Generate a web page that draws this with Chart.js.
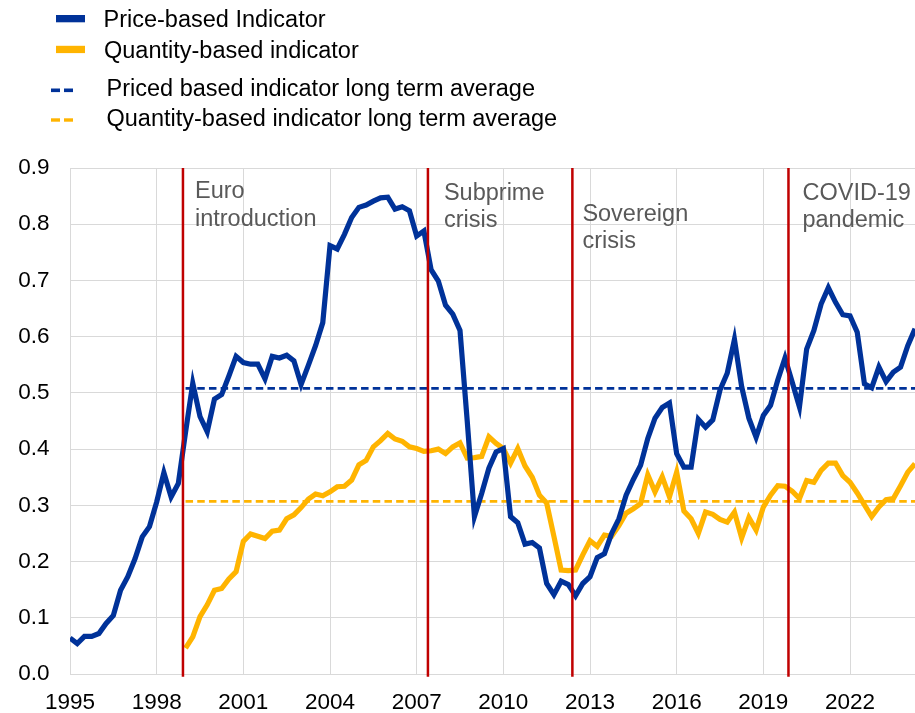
<!DOCTYPE html>
<html>
<head>
<meta charset="utf-8">
<script src="https://cdn.jsdelivr.net/npm/chart.js@4"></script>
<style>
html,body{margin:0;padding:0;background:#fff;}
#wrap{width:915px;height:713px;position:relative;}
</style>
</head>
<body>
<div id="wrap"><canvas id="c"></canvas></div>
<script>
// ---------- DATA ----------
// Quarterly categories 1995Q1 .. 2024Q2
const quarters = [];
for (let y = 1995; y <= 2024; y++) {
  for (let q = 1; q <= 4; q++) {
    if (y === 2024 && q > 2) break;
    quarters.push(y + 'Q' + q);
  }
}

// Price-based indicator, 1995Q1 .. 2024Q2
const priceBased = [
  0.064, 0.054, 0.067, 0.067, 0.072, 0.090, 0.104, 0.149, 0.173, 0.205, 0.244, 0.262,
  0.306, 0.358, 0.315, 0.339, 0.430, 0.517, 0.458, 0.431, 0.489, 0.497, 0.530, 0.565,
  0.554, 0.551, 0.551, 0.525, 0.565, 0.562, 0.567, 0.557, 0.515, 0.549, 0.584, 0.625,
  0.762, 0.756, 0.782, 0.812, 0.830, 0.834, 0.841, 0.847, 0.848, 0.827, 0.831, 0.824,
  0.779, 0.788, 0.719, 0.699, 0.656, 0.640, 0.611, 0.450, 0.280, 0.321, 0.366, 0.395,
  0.401, 0.280, 0.269, 0.231, 0.234, 0.224, 0.161, 0.141, 0.165, 0.159, 0.139, 0.161,
  0.173, 0.207, 0.214, 0.250, 0.276, 0.318, 0.346, 0.371, 0.419, 0.455, 0.474, 0.482,
  0.392, 0.368, 0.368, 0.453, 0.439, 0.452, 0.505, 0.535, 0.595, 0.511, 0.455, 0.421,
  0.460, 0.478, 0.523, 0.562, 0.519, 0.475, 0.578, 0.611, 0.658, 0.687, 0.661, 0.639,
  0.637, 0.608, 0.516, 0.509, 0.546, 0.520, 0.537, 0.546, 0.584, 0.614
];

// Quantity-based indicator, 1999Q1 .. 2024Q2
const quantityStart = '1999Q1';
const quantityBased = [
  0.046, 0.066, 0.102, 0.123, 0.149, 0.152, 0.169, 0.182, 0.236, 0.249, 0.245, 0.241,
  0.254, 0.256, 0.276, 0.283, 0.296, 0.311, 0.320, 0.317, 0.324, 0.333, 0.334, 0.345,
  0.372, 0.380, 0.404, 0.415, 0.428, 0.418, 0.414, 0.404, 0.401, 0.396, 0.397, 0.400,
  0.392, 0.404, 0.411, 0.384, 0.385, 0.387, 0.422, 0.410, 0.401, 0.375, 0.401, 0.370,
  0.350, 0.318, 0.304, 0.245, 0.185, 0.184, 0.185, 0.212, 0.237, 0.227, 0.247, 0.245,
  0.264, 0.286, 0.294, 0.303, 0.354, 0.324, 0.351, 0.315, 0.359, 0.290, 0.276, 0.250,
  0.288, 0.284, 0.275, 0.270, 0.288, 0.242, 0.278, 0.256, 0.297, 0.318, 0.335, 0.334,
  0.325, 0.312, 0.344, 0.341, 0.362, 0.375, 0.375, 0.353, 0.341, 0.322, 0.301, 0.280,
  0.297, 0.310, 0.312, 0.335, 0.359, 0.374
];

// Long term averages (drawn from 1999Q1 to the end of the sample)
const priceAverage = 0.508;
const quantityAverage = 0.307;
const averageStart = '1999Q1';

// Events (vertical red lines), in fractional years
const eventNames = [['Euro', 'introduction'], ['Subprime', 'crisis'], ['Sovereign', 'crisis'], ['COVID-19', 'pandemic']];
const eventDates = [1998.91, 2007.39, 2012.39, 2019.87];

// Tick labels
const xTickValues = [1995, 1998, 2001, 2004, 2007, 2010, 2013, 2016, 2019, 2022];
const yTickValues = [0.0, 0.1, 0.2, 0.3, 0.4, 0.5, 0.6, 0.7, 0.8, 0.9];

const legendLabels = [
  'Price-based Indicator',
  'Quantity-based indicator',
  'Priced based indicator long term average',
  'Quantity-based indicator long term average'
];

// ---------- HELPERS ----------
function qToX(label) {
  const y = parseInt(label.slice(0, 4), 10);
  const q = parseInt(label.slice(5), 10);
  return y + (q - 1) / 4;
}
const xMin = qToX(quarters[0]);
const xMax = qToX(quarters[quarters.length - 1]);
const qStartIdx = quarters.indexOf(quantityStart);

const BLUE = '#003299';
const YELLOW = '#ffb400';
const RED = '#c00000';
const FONT = "'Liberation Sans', Arial, sans-serif";

const priceData = priceBased.map((v, i) => ({ x: qToX(quarters[i]), y: v }));
const quantityData = quantityBased.map((v, i) => ({ x: qToX(quarters[i + qStartIdx]), y: v }));
const avgX0 = qToX(averageStart);

const datasets = [];
eventDates.forEach((d, i) => {
  datasets.push({
    label: eventNames[i].join(' '),
    data: [{ x: d, y: yTickValues[yTickValues.length - 1] }, { x: d, y: -0.005 }],
    borderColor: RED, borderWidth: 2.5, pointRadius: 0, clip: false, order: 0
  });
});
datasets.push({
  label: legendLabels[0], data: priceData, borderColor: BLUE, borderWidth: 5.2,
  pointRadius: 0, tension: 0, order: 1
});
datasets.push({
  label: legendLabels[1], data: quantityData, borderColor: YELLOW, borderWidth: 5.2,
  pointRadius: 0, tension: 0, order: 2
});
datasets.push({
  label: legendLabels[2], data: [{ x: avgX0, y: priceAverage }, { x: xMax, y: priceAverage }],
  borderColor: BLUE, borderWidth: 2.6, borderDash: [7.5, 4.2], pointRadius: 0, order: 3
});
datasets.push({
  label: legendLabels[3], data: [{ x: avgX0, y: quantityAverage }, { x: xMax, y: quantityAverage }],
  borderColor: YELLOW, borderWidth: 2.6, borderDash: [7.5, 4.2], pointRadius: 0, order: 3
});

// ---------- PLUGINS (legend + annotations) ----------
const decorPlugin = {
  id: 'decor',
  afterDatasetsDraw(chart) {
    const ctx = chart.ctx;
    const xs = chart.scales.x;
    const top = chart.chartArea.top;
    ctx.save();
    ctx.font = '23.5px ' + FONT;
    ctx.fillStyle = '#595959';
    ctx.textAlign = 'left';
    ctx.textBaseline = 'alphabetic';
    const offsets = [[12, 30.3], [16, 31.7], [10, 52.7], [14, 31.7]];
    eventNames.forEach((lines, i) => {
      const px = xs.getPixelForValue(eventDates[i]) + offsets[i][0];
      lines.forEach((t, j) => ctx.fillText(t, px, top + offsets[i][1] + j * 27.6));
    });
    ctx.restore();
  },
  afterDraw(chart) {
    const ctx = chart.ctx;
    ctx.save();
    ctx.fillStyle = BLUE; ctx.fillRect(56, 15, 29, 7.3);
    ctx.fillStyle = YELLOW; ctx.fillRect(56, 45.8, 29, 7.3);
    ctx.fillStyle = BLUE; ctx.fillRect(51, 88.5, 9, 3.6); ctx.fillRect(64, 88.5, 9, 3.6);
    ctx.fillStyle = YELLOW; ctx.fillRect(51, 118.3, 9, 3.4); ctx.fillRect(64, 118.3, 9, 3.4);
    ctx.font = '23.5px ' + FONT;
    ctx.fillStyle = '#000';
    ctx.textAlign = 'left';
    ctx.textBaseline = 'alphabetic';
    ctx.fillText(legendLabels[0], 103.5, 26.7);
    ctx.fillText(legendLabels[1], 104, 58.3);
    ctx.fillText(legendLabels[2], 106.5, 95.7);
    ctx.fillText(legendLabels[3], 106.5, 125.7);
    ctx.restore();
  }
};

// ---------- CHART ----------
new Chart(document.getElementById('c'), {
  type: 'line',
  data: { datasets },
  options: {
    responsive: true,
    maintainAspectRatio: false,
    animation: false,
    layout: { padding: { top: 168, left: 0, right: 0, bottom: 0 } },
    plugins: { legend: { display: false }, tooltip: { enabled: false } },
    elements: { line: { borderJoinStyle: 'miter', borderCapStyle: 'butt' } },
    scales: {
      x: {
        type: 'linear',
        min: xMin, max: xMax,
        afterBuildTicks: s => { s.ticks = xTickValues.map(v => ({ value: v })); },
        afterFit: s => { s.height = 39; s.paddingLeft = 0; s.paddingRight = 0; },
        ticks: {
          callback: v => String(v), color: '#000', autoSkip: false, maxRotation: 0,
          padding: 15.5, font: { family: FONT, size: 22.5 }
        },
        grid: { color: '#d9d9d9', lineWidth: 1, drawTicks: false },
        border: { display: true, color: '#d9d9d9', width: 1 }
      },
      y: {
        type: 'linear',
        min: yTickValues[0], max: yTickValues[yTickValues.length - 1],
        afterBuildTicks: s => { s.ticks = yTickValues.map(v => ({ value: v })); },
        afterFit: s => { s.width = 70; s.paddingTop = 0; s.paddingBottom = 0; },
        ticks: {
          callback: v => v.toFixed(1), color: '#000', padding: 20.5,
          font: { family: FONT, size: 22.5 }
        },
        grid: { color: '#d9d9d9', lineWidth: 1, drawTicks: false },
        border: { display: true, color: '#d9d9d9', width: 1 }
      }
    }
  },
  plugins: [decorPlugin]
});
</script>
</body>
</html>
